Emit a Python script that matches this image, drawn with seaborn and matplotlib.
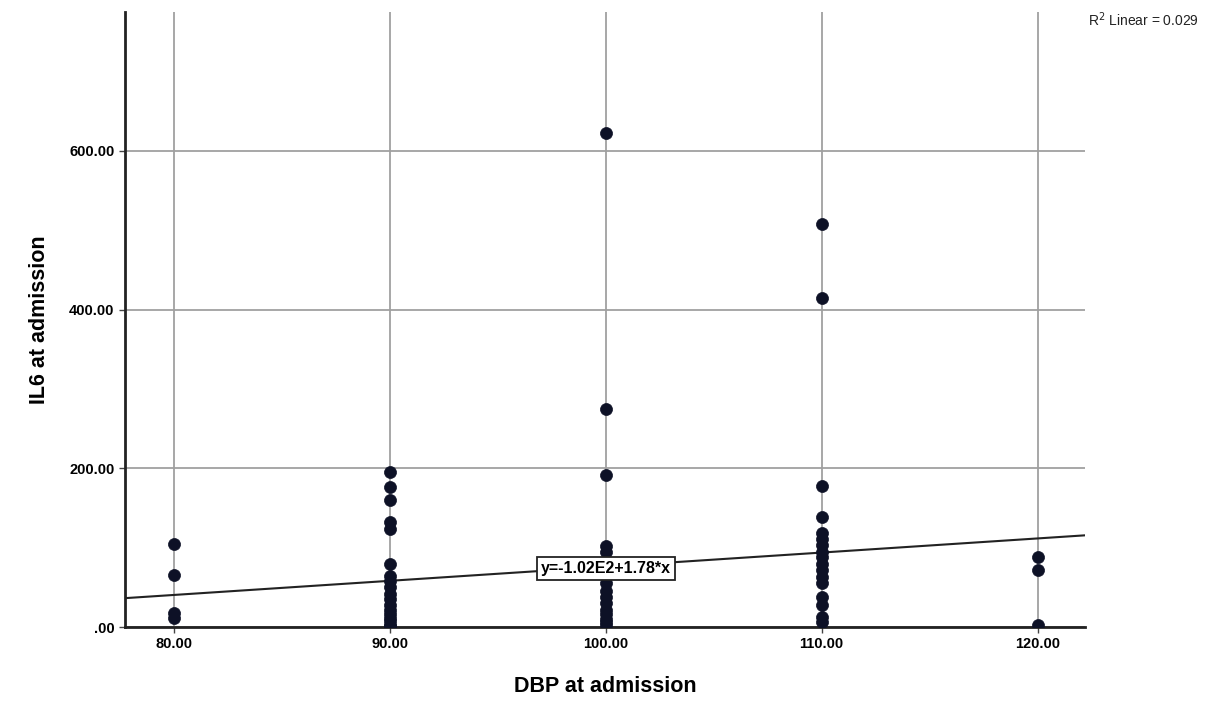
import numpy as np
import pandas as pd
import matplotlib
matplotlib.use("Agg")
import matplotlib.pyplot as plt
import seaborn as sns
from matplotlib.ticker import FuncFormatter

# values (DBP groups and IL6 readings)
dbp_80 = [105, 65, 18, 11]
dbp_90 = [195, 176, 160, 132, 124, 80, 64, 58, 50, 42, 35, 28, 22, 16, 11, 7, 3, 1]
dbp_100 = [622, 275, 192, 102, 95, 56, 45, 38, 30, 22, 16, 10, 6, 2]
dbp_110 = [508, 414, 178, 138, 119, 111, 103, 95, 88, 80, 72, 63, 55, 38, 28, 12, 6]
dbp_120 = [88, 72, 3]

intercept = -102.0
slope = 1.78
r2_text = "R$^2$ Linear = 0.029"
eq_text = "y=-1.02E2+1.78*x"

groups = {80: dbp_80, 90: dbp_90, 100: dbp_100, 110: dbp_110, 120: dbp_120}
df = pd.DataFrame([(k, v) for k, vals in groups.items() for v in vals], columns=["dbp", "il6"])

sns.set_theme(style="white")
plt.rcParams["font.family"] = ["Liberation Sans", "DejaVu Sans"]

fig = plt.figure(figsize=(12.1, 7.03), dpi=100)
ax = fig.add_axes([0.1033, 0.1081, 0.7934, 0.8749])

sns.scatterplot(data=df, x="dbp", y="il6", ax=ax, color="#0d1126", s=75,
                edgecolor="#0d1126", linewidth=0.5, zorder=3, legend=False)

xlim = (77.73, 122.2)
xs = np.array(xlim)
ax.plot(xs, intercept + slope * xs, color="#222222", lw=1.5, zorder=2)

ax.set_xlim(*xlim)
ax.set_ylim(0, 775)
ax.set_xticks([80, 90, 100, 110, 120])
ax.set_yticks([0, 200, 400, 600])

def spss_fmt(v, pos):
    s = f"{v:.2f}"
    return s[1:] if s.startswith("0") else s

ax.xaxis.set_major_formatter(FuncFormatter(spss_fmt))
ax.yaxis.set_major_formatter(FuncFormatter(spss_fmt))

ax.grid(True, color="#a0a0a0", lw=1.3)
ax.set_axisbelow(True)
for side in ["top", "right"]:
    ax.spines[side].set_visible(False)
for side in ["left", "bottom"]:
    ax.spines[side].set_color("#222222")
    ax.spines[side].set_linewidth(2)

ax.tick_params(axis="both", labelsize=10.5, length=4, width=1, color="#444444",
               labelcolor="black", bottom=True, left=True)
for lab in ax.get_xticklabels() + ax.get_yticklabels():
    lab.set_fontweight("bold")

ax.set_xlabel("DBP at admission", fontsize=15.5, fontweight="bold", labelpad=18, color="black")
ax.set_ylabel("IL6 at admission", fontsize=15.5, fontweight="bold", labelpad=14, color="black")

ax.text(100, 74, eq_text, ha="center", va="center", fontsize=11.5, fontweight="bold",
        color="black", zorder=4,
        bbox=dict(boxstyle="square,pad=0.25", fc="white", ec="#222222", lw=1.3))

fig.text(0.899, 0.972, r2_text, fontsize=10, color="#222222", ha="left", va="center")

fig.savefig("out.png", dpi=100)
